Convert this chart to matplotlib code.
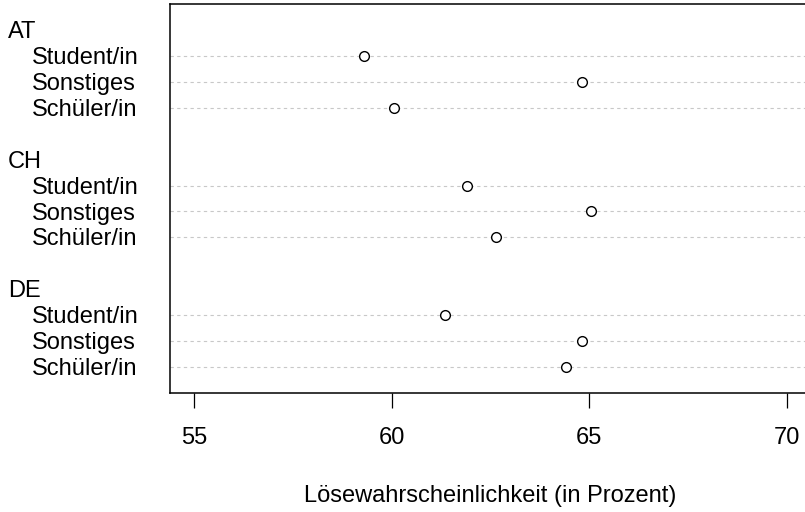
import matplotlib
matplotlib.use("Agg")
import matplotlib.pyplot as plt
from matplotlib.transforms import blended_transform_factory, offset_copy

# ================= DATA =================
groups = ["AT", "CH", "DE"]
items = ["Student/in", "Sonstiges", "Schüler/in"]
values_at = [59.3, 64.8, 60.05]
values_ch = [61.9, 65.05, 62.65]
values_de = [61.35, 64.8, 64.4]
xticks = [55, 60, 65, 70]
xlabel = "Lösewahrscheinlichkeit (in Prozent)"

plt.rcParams["font.family"] = ["Liberation Sans", "DejaVu Sans"]
FS = 17

W, H = 805, 512
fig = plt.figure(figsize=(W / 100, H / 100), dpi=100)
# plot box runs past the right edge of the picture, as in the reference
ax = fig.add_axes([170 / W, 1 - 393 / H, (811 - 170) / W, (393 - 4) / H])

# R dotchart layout: groups from bottom, gap of 2 between groups
all_values = [values_at, values_ch, values_de]
trans = blended_transform_factory(fig.transFigure, ax.transData)
trans = offset_copy(trans, fig=fig, y=-1.5, units="points")
pos = 1
for gi in range(len(groups) - 1, -1, -1):
    vals = all_values[gi]
    for ii in range(len(items) - 1, -1, -1):
        ax.axhline(pos, color="#c8c8c8", lw=0.8, linestyle=(0, (3, 3)), zorder=1)
        ax.plot(vals[ii], pos, "o", ms=7, mfc="white", mec="black", mew=1.0, zorder=3)
        ax.text(32 / W, pos, items[ii], transform=trans, fontsize=FS,
                ha="left", va="center")
        pos += 1
    ax.text(8 / W, pos, groups[gi], transform=trans, fontsize=FS,
            ha="left", va="center")
    pos += 2

ax.set_ylim(0, 15)
ax.set_xlim(54.4, 70.6)
ax.set_yticks([])
ax.set_xticks(xticks)
ax.set_xticklabels([str(t) for t in xticks], fontsize=FS)
ax.tick_params(axis="x", length=10.5, width=0.9, pad=14, color="black")
for s in ax.spines.values():
    s.set_linewidth(1.1)
ax.spines["right"].set_visible(False)
ax.set_xlabel(xlabel, fontsize=FS, labelpad=26)

fig.savefig("out.png", dpi=100, facecolor="white")
